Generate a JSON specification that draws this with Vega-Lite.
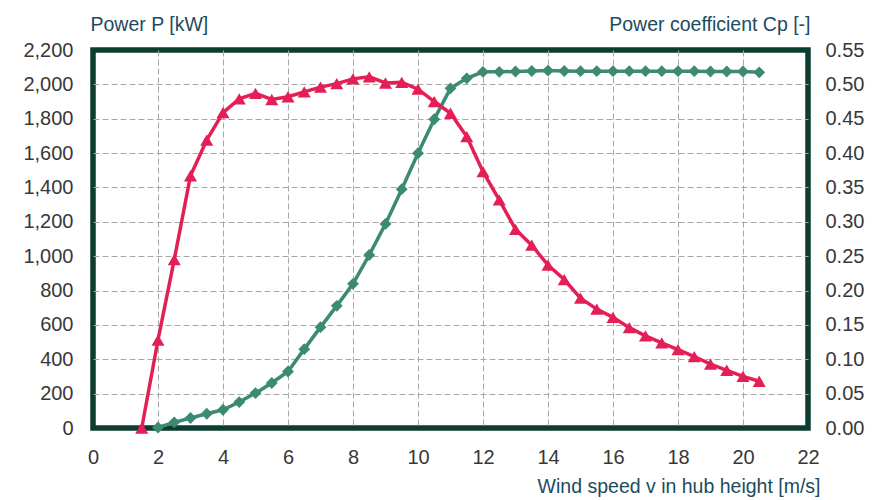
{
  "$schema": "https://vega.github.io/schema/vega-lite/v6.json",
  "autosize": "none",
  "width": 715,
  "height": 378,
  "padding": {"left": 93, "top": 50, "right": 69, "bottom": 72},
  "background": "white",
  "config": {
    "font": "Liberation Sans",
    "view": {"stroke": "#0d3d31", "strokeWidth": 5.5},
    "axis": {"labelFont": "Liberation Sans", "titleFont": "Liberation Sans", "labelFontSize": 20, "titleFontSize": 19.5, "labelColor": "#383838", "titleColor": "#1d4b5e", "titleFontWeight": "normal", "domain": false, "ticks": false, "labelFlush": false, "gridColor": "#a8a8a8", "gridDash": [6, 3], "gridWidth": 1}
  },
  "datasets": {
    "power": [
      {"v": 2.0, "P": 3}, {"v": 2.5, "P": 33}, {"v": 3.0, "P": 58}, {"v": 3.5, "P": 83},
      {"v": 4.0, "P": 106}, {"v": 4.5, "P": 151}, {"v": 5.0, "P": 203}, {"v": 5.5, "P": 262},
      {"v": 6.0, "P": 329}, {"v": 6.5, "P": 459}, {"v": 7.0, "P": 587}, {"v": 7.5, "P": 711},
      {"v": 8.0, "P": 839}, {"v": 8.5, "P": 1007}, {"v": 9.0, "P": 1188}, {"v": 9.5, "P": 1390},
      {"v": 10.0, "P": 1599}, {"v": 10.5, "P": 1797}, {"v": 11.0, "P": 1977}, {"v": 11.5, "P": 2035},
      {"v": 12.0, "P": 2073}, {"v": 12.5, "P": 2073}, {"v": 13.0, "P": 2075}, {"v": 13.5, "P": 2078},
      {"v": 14.0, "P": 2080}, {"v": 14.5, "P": 2078}, {"v": 15.0, "P": 2077}, {"v": 15.5, "P": 2077},
      {"v": 16.0, "P": 2077}, {"v": 16.5, "P": 2077}, {"v": 17.0, "P": 2077}, {"v": 17.5, "P": 2077},
      {"v": 18.0, "P": 2077}, {"v": 18.5, "P": 2077}, {"v": 19.0, "P": 2075}, {"v": 19.5, "P": 2075},
      {"v": 20.0, "P": 2075}, {"v": 20.5, "P": 2070}
    ],
    "cp": [
      {"v": 1.5, "Cp": 0.0}, {"v": 2.0, "Cp": 0.128}, {"v": 2.5, "Cp": 0.245}, {"v": 3.0, "Cp": 0.367},
      {"v": 3.5, "Cp": 0.419}, {"v": 4.0, "Cp": 0.459}, {"v": 4.5, "Cp": 0.479}, {"v": 5.0, "Cp": 0.487},
      {"v": 5.5, "Cp": 0.478}, {"v": 6.0, "Cp": 0.482}, {"v": 6.5, "Cp": 0.489}, {"v": 7.0, "Cp": 0.496},
      {"v": 7.5, "Cp": 0.501}, {"v": 8.0, "Cp": 0.508}, {"v": 8.5, "Cp": 0.511}, {"v": 9.0, "Cp": 0.502},
      {"v": 9.5, "Cp": 0.503}, {"v": 10.0, "Cp": 0.493}, {"v": 10.5, "Cp": 0.475}, {"v": 11.0, "Cp": 0.458},
      {"v": 11.5, "Cp": 0.424}, {"v": 12.0, "Cp": 0.373}, {"v": 12.5, "Cp": 0.332}, {"v": 13.0, "Cp": 0.289},
      {"v": 13.5, "Cp": 0.266}, {"v": 14.0, "Cp": 0.237}, {"v": 14.5, "Cp": 0.216}, {"v": 15.0, "Cp": 0.189},
      {"v": 15.5, "Cp": 0.173}, {"v": 16.0, "Cp": 0.161}, {"v": 16.5, "Cp": 0.146}, {"v": 17.0, "Cp": 0.134},
      {"v": 17.5, "Cp": 0.124}, {"v": 18.0, "Cp": 0.114}, {"v": 18.5, "Cp": 0.104}, {"v": 19.0, "Cp": 0.093},
      {"v": 19.5, "Cp": 0.084}, {"v": 20.0, "Cp": 0.075}, {"v": 20.5, "Cp": 0.068}
    ]
  },
  "encoding": {
    "x": {
      "field": "v", "type": "quantitative",
      "scale": {"domain": [0, 22], "nice": false, "zero": false},
      "axis": {
        "values": [0, 2, 4, 6, 8, 10, 12, 14, 16, 18, 20, 22],
        "title": "Wind speed v in hub height [m/s]",
        "labelPadding": 19,
        "titleAnchor": null, "titleAlign": "right", "titleBaseline": "alphabetic",
        "titleX": 727, "titleY": 64,
        "gridColor": {"expr": "datum.value > 0 && datum.value < 22 ? '#a8a8a8' : null"}
      }
    }
  },
  "layer": [
    {
      "data": {"name": "power"},
      "mark": {"type": "line", "color": "#3c8a72", "strokeWidth": 3.5,
        "point": {"shape": "diamond", "size": 140, "filled": true, "color": "#3c8a72", "opacity": 1}},
      "encoding": {
        "y": {
          "field": "P", "type": "quantitative",
          "scale": {"domain": [0, 2200], "nice": false},
          "axis": {
            "orient": "left",
            "values": [0, 200, 400, 600, 800, 1000, 1200, 1400, 1600, 1800, 2000, 2200],
            "format": ",d",
            "title": "Power P [kW]",
            "labelPadding": 20,
            "titleAngle": 0, "titleAnchor": null, "titleAlign": "left", "titleBaseline": "alphabetic",
            "titleX": -3, "titleY": -20,
            "gridColor": {"expr": "datum.value > 0 && datum.value < 2200 ? '#a8a8a8' : null"}
          }
        }
      }
    },
    {
      "data": {"name": "cp"},
      "mark": {"type": "line", "color": "#e41f55", "strokeWidth": 3.5,
        "point": {"shape": "triangle-up", "size": 170, "filled": true, "color": "#e41f55", "opacity": 1}},
      "encoding": {
        "y": {
          "field": "Cp", "type": "quantitative",
          "scale": {"domain": [0, 0.55], "nice": false},
          "axis": {
            "orient": "right",
            "values": [0, 0.05, 0.1, 0.15, 0.2, 0.25, 0.3, 0.35, 0.4, 0.45, 0.5, 0.55],
            "format": ".2f",
            "grid": false,
            "title": "Power coefficient Cp [-]",
            "labelPadding": 17,
            "titleAngle": 0, "titleAnchor": null, "titleAlign": "right", "titleBaseline": "alphabetic",
            "titleX": 2, "titleY": -20
          }
        }
      }
    }
  ],
  "resolve": {"scale": {"y": "independent"}}
}
